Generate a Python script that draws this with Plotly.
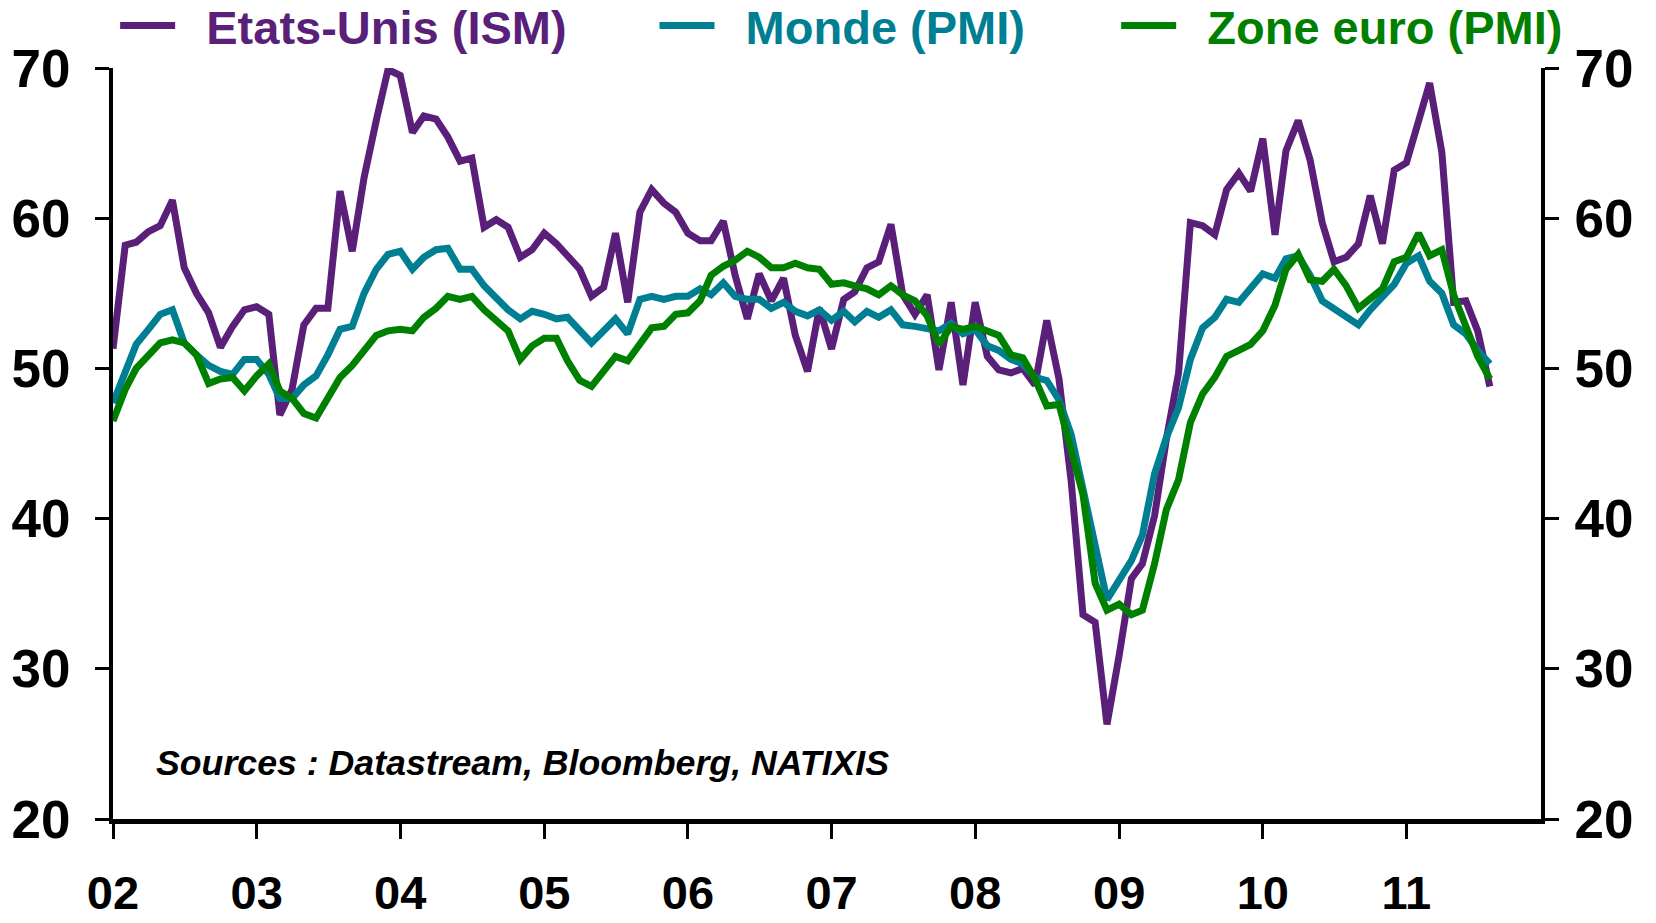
import plotly.graph_objects as go
import pandas as pd

months = pd.date_range("2002-01-01", "2011-08-01", freq="MS")

ism_us = [51.3, 58.2, 58.4, 59.1, 59.5, 61.2, 56.7, 55.0, 53.7, 51.4, 52.8, 53.9,
          54.1, 53.6, 46.9, 48.6, 52.9, 54.0, 54.0, 61.8, 57.8, 62.7, 66.5, 69.9,
          69.5, 65.7, 66.8, 66.6, 65.4, 63.8, 64.0, 59.4, 59.9, 59.4, 57.4, 57.9,
          59.0, 58.3, 57.5, 56.6, 54.8, 55.4, 59.0, 54.4, 60.4, 61.9, 61.0, 60.4,
          59.0, 58.5, 58.5, 59.8, 56.2, 53.3, 56.3, 54.5, 56.0, 52.2, 49.8, 54.0,
          51.3, 54.6, 55.1, 56.7, 57.1, 59.6, 54.9, 53.6, 54.9, 49.9, 54.4, 48.9,
          54.4, 50.8, 49.9, 49.7, 50.0, 48.9, 53.2, 49.3, 42.5, 33.6, 33.1, 26.3,
          30.9, 36.0, 37.0, 40.2, 45.3, 49.7, 59.7, 59.5, 58.9, 61.9, 63.0, 61.8,
          65.3, 58.9, 64.5, 66.5, 63.9, 59.7, 57.1, 57.4, 58.3, 61.5, 58.3, 63.2,
          63.7, 66.3, 69.0, 64.4, 54.4, 54.5, 52.5, 48.8]

pmi_world = [47.7, 49.9, 51.6, 52.6, 53.6, 53.9, 51.7, 50.9, 50.2, 49.8, 49.6, 50.6,
             50.6, 49.6, 48.0, 48.0, 48.9, 49.5, 50.9, 52.6, 52.8, 55.0, 56.6, 57.6,
             57.8, 56.6, 57.4, 57.9, 58.0, 56.6, 56.6, 55.5, 54.6, 53.9, 53.3, 53.8,
             53.6, 53.3, 53.4, 52.5, 51.7, 52.5, 53.3, 52.3, 54.6, 54.8, 54.6, 54.8,
             54.8, 55.3, 54.9, 55.7, 54.8, 54.6, 54.6, 54.0, 54.4, 53.8, 53.5, 53.9,
             53.2, 53.8, 53.1, 53.8, 53.4, 53.9, 52.9, 52.8, 52.6, 52.5, 53.0, 52.3,
             52.6, 51.5, 51.2, 50.6, 50.3, 49.4, 49.2, 47.9, 45.6, 42.0, 38.3, 34.6,
             35.9, 37.2, 38.9, 43.0, 45.4, 47.4, 50.6, 52.7, 53.4, 54.6, 54.4, 55.3,
             56.3, 56.0, 57.3, 57.5, 56.2, 54.5, 54.0, 53.5, 52.9, 53.9, 54.7, 55.6,
             57.0, 57.5, 55.8, 55.0, 52.9, 52.3, 51.2, 50.3]

pmi_euro = [46.5, 48.6, 50.0, 50.9, 51.7, 51.9, 51.7, 50.9, 49.0, 49.3, 49.4, 48.5,
            49.5, 50.3, 48.5, 48.0, 47.0, 46.7, 48.0, 49.4, 50.2, 51.2, 52.2, 52.5,
            52.6, 52.5, 53.4, 54.0, 54.8, 54.6, 54.8, 53.9, 53.2, 52.5, 50.6, 51.5,
            52.0, 52.0, 50.5, 49.2, 48.8, 49.9, 50.8, 50.5, 51.7, 52.7, 52.8, 53.6,
            53.7, 54.5, 56.2, 56.8, 57.2, 57.8, 57.4, 56.7, 56.7, 57.0, 56.7, 56.6,
            55.6, 55.7, 55.5, 55.3, 54.9, 55.5, 54.9, 54.5, 53.5, 51.6, 52.8, 52.6,
            52.8, 52.5, 52.2, 50.9, 50.7, 49.3, 47.5, 47.6, 44.6, 41.6, 35.7, 33.9,
            34.3, 33.6, 33.9, 37.0, 40.6, 42.6, 46.4, 48.3, 49.4, 50.8, 51.2, 51.6,
            52.5, 54.2, 56.6, 57.6, 55.9, 55.8, 56.6, 55.5, 54.0, 54.7, 55.3, 57.1,
            57.4, 59.0, 57.5, 57.9, 54.9, 52.8, 50.8, 49.3]

series_names = ["Etats-Unis (ISM)", "Monde (PMI)", "Zone euro (PMI)"]
colors = ["#5A1F78", "#007E92", "#008000"]
y_ticks = [20, 30, 40, 50, 60, 70]
source_text = "Sources : Datastream, Bloomberg, NATIXIS"

FONT = "Liberation Sans, Arial, sans-serif"
NBSP = "\u00a0\u00a0"

fig = go.Figure()
legend_ids = ["legend", "legend2", "legend3"]
for name, vals, col, lg in zip(series_names, [ism_us, pmi_world, pmi_euro], colors, legend_ids):
    fig.add_trace(go.Scatter(x=months, y=vals, mode="lines", name=NBSP + name,
                             line=dict(color=col, width=7), legend=lg))

# dummy trace for the right-hand axis
fig.add_trace(go.Scatter(x=[months[0]], y=[None], yaxis="y2", showlegend=False,
                         hoverinfo="skip"))

def legend_cfg(x, col):
    return dict(orientation="h", x=x, y=1.056, xanchor="left", yanchor="middle",
                font=dict(family=FONT, size=47, color=col, weight="bold"),
                bgcolor="rgba(0,0,0,0)", itemwidth=55, tracegroupgap=0)

fig.update_layout(
    width=1656, height=923,
    margin=dict(l=113, r=115, t=68, b=104, autoexpand=False),
    paper_bgcolor="white", plot_bgcolor="white",
    font=dict(family=FONT, color="black"),
    showlegend=True,
    legend=legend_cfg(0.0015, colors[0]),
    legend2=legend_cfg(0.3792, colors[1]),
    legend3=legend_cfg(0.7025, colors[2]),
    xaxis=dict(
        range=["2002-01-01", "2011-12-09"],
        tickmode="linear", tick0="2002-01-01", dtick="M12", tickformat="%y",
        ticks="outside", ticklen=15, tickwidth=3, tickcolor="black",
        showline=True, linewidth=5, linecolor="black",
        showgrid=False, zeroline=False,
        tickfont=dict(family=FONT, size=47, color="black", weight="bold"),
        ticklabelstandoff=14,
    ),
    yaxis=dict(
        range=[20, 70], tickvals=y_ticks,
        ticks="outside", ticklen=14, tickwidth=3, tickcolor="black",
        showline=True, linewidth=4, linecolor="black",
        showgrid=False, zeroline=False,
        tickfont=dict(family=FONT, size=53, color="black", weight="bold"),
        ticklabelstandoff=14,
    ),
    yaxis2=dict(
        range=[20, 70], tickvals=y_ticks, overlaying="y", side="right",
        ticks="outside", ticklen=14, tickwidth=3, tickcolor="black",
        showline=True, linewidth=4, linecolor="black",
        showgrid=False, zeroline=False,
        tickfont=dict(family=FONT, size=53, color="black", weight="bold"),
        ticklabelstandoff=5,
    ),
    annotations=[dict(
        text=source_text, xref="paper", yref="paper", x=0.0285, y=0.075,
        xanchor="left", yanchor="middle", showarrow=False,
        font=dict(family=FONT, size=35.7, color="black", weight="bold", style="italic"),
    )],
)

fig.write_html("out.html", config={"displayModeBar": False},
               post_script="document.body.style.margin='0';")
